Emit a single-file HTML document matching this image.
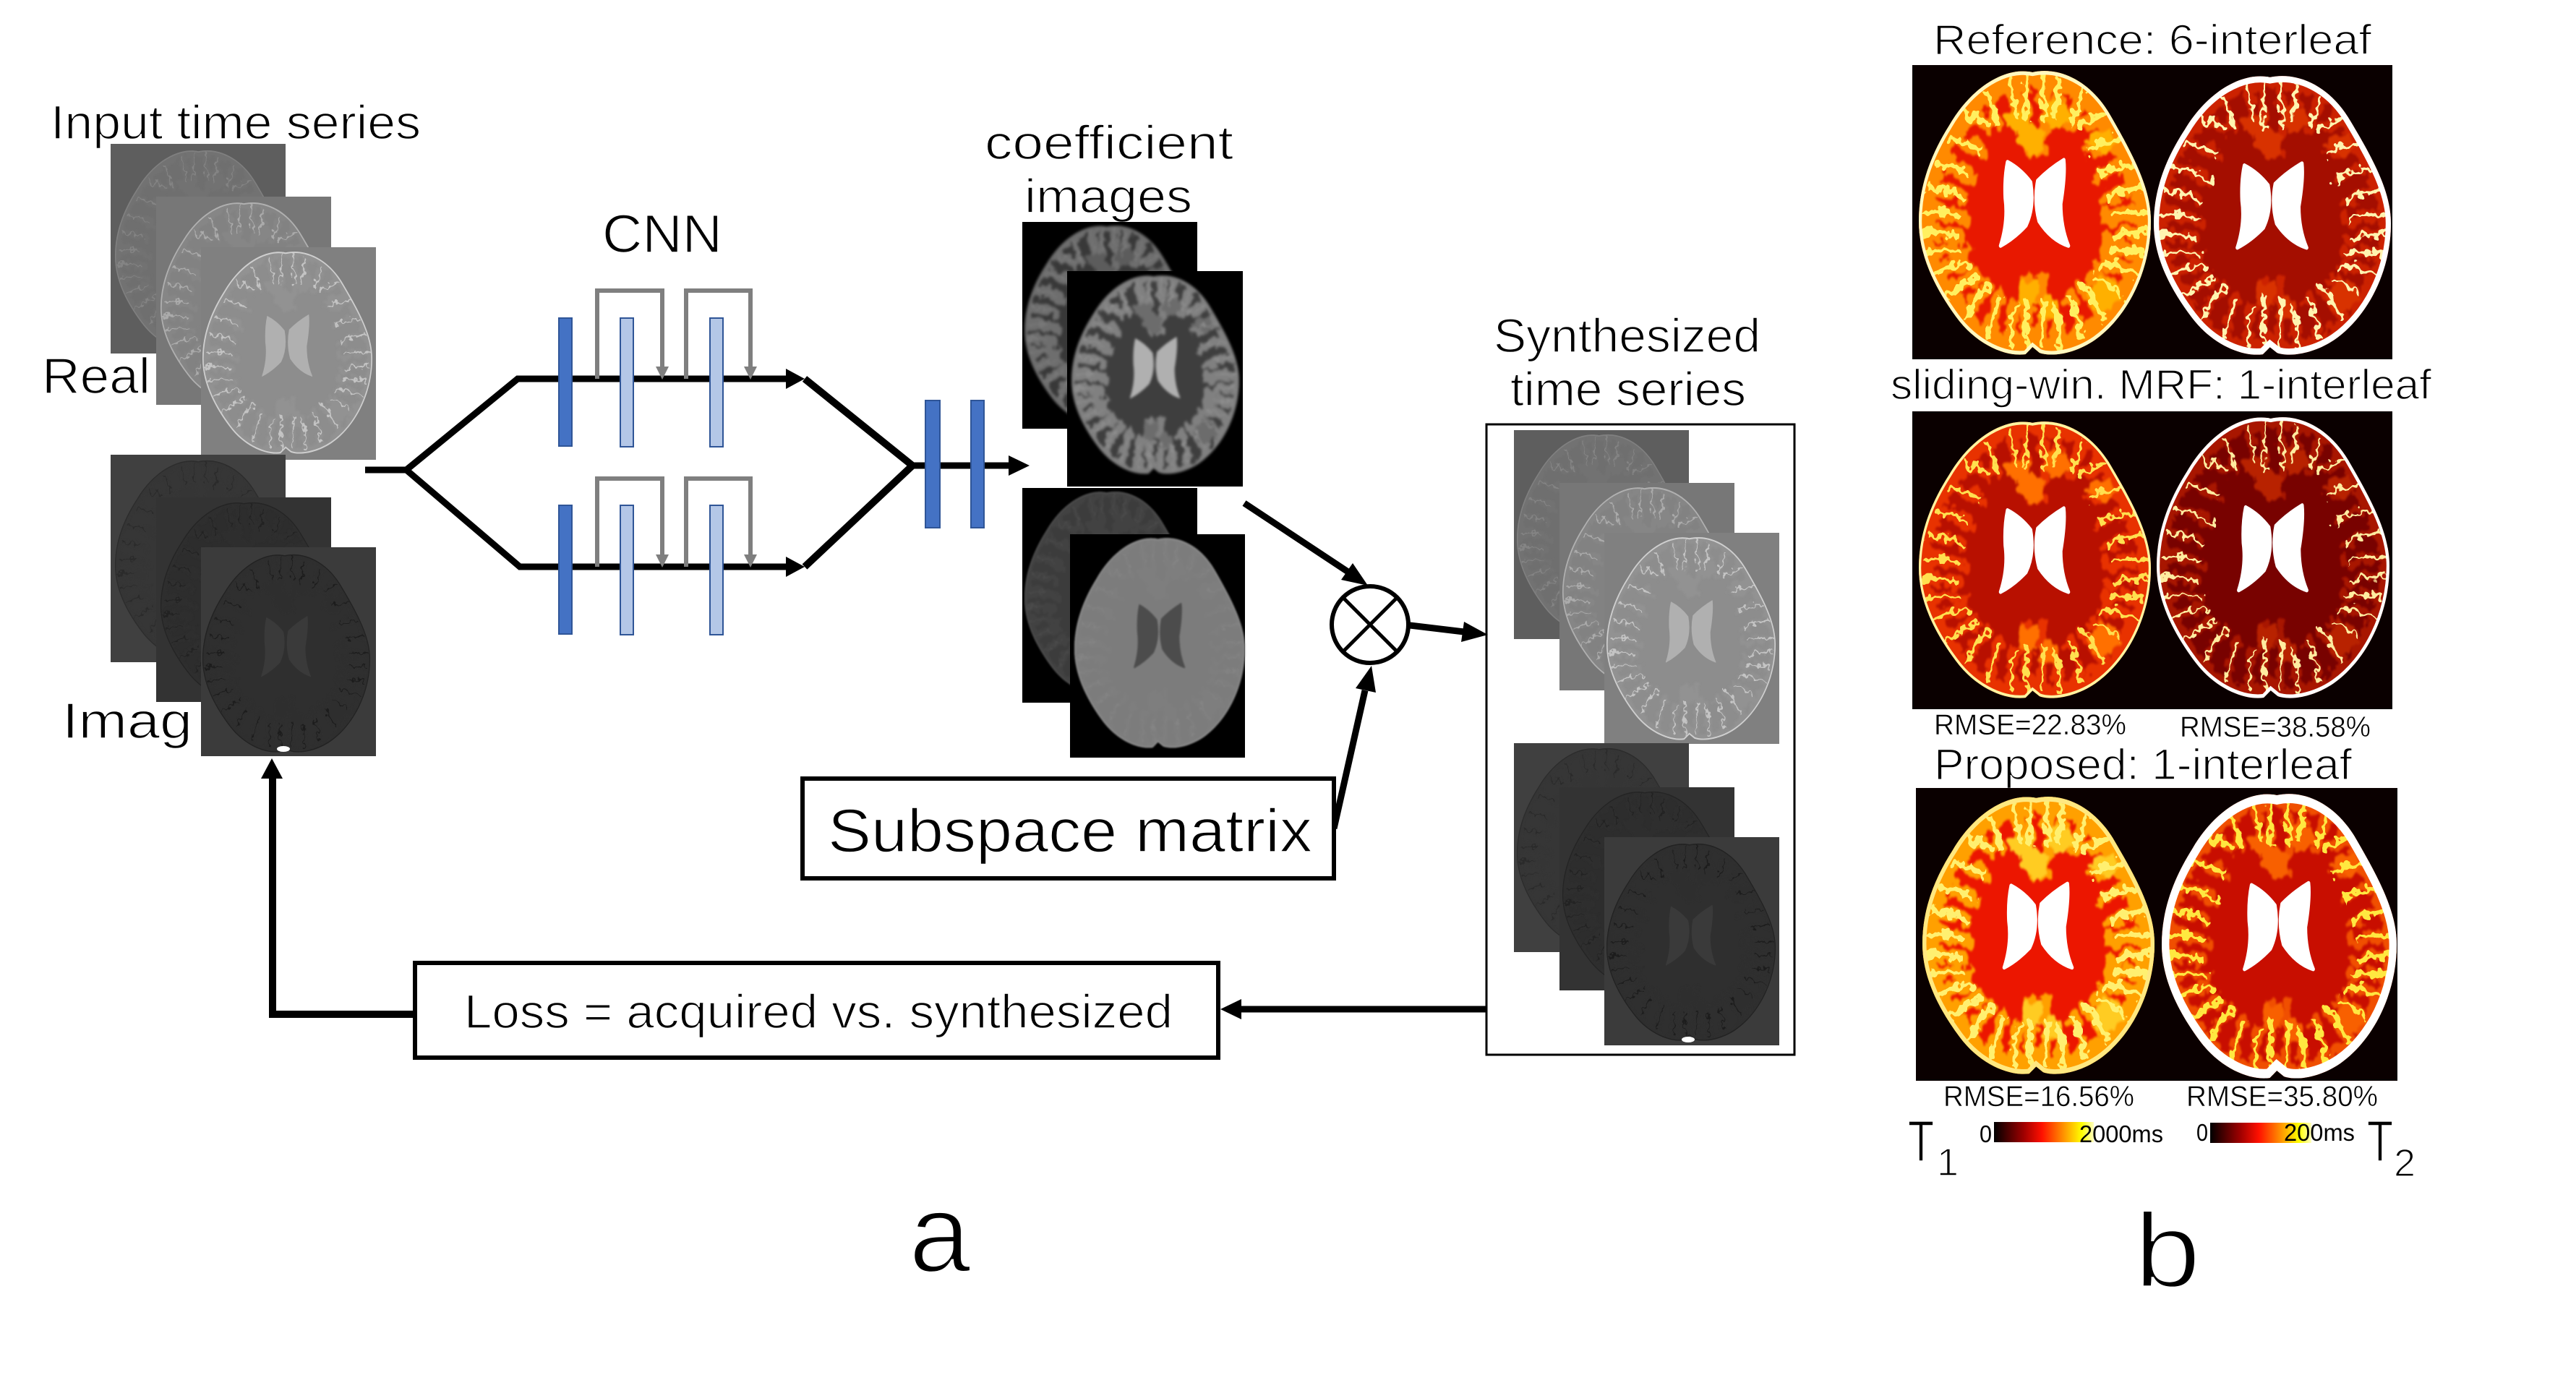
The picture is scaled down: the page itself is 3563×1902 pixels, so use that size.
<!DOCTYPE html>
<html><head><meta charset="utf-8"><style>
html,body{margin:0;padding:0;background:#fff}
svg{display:block}
text{font-family:"Liberation Sans",sans-serif;fill:#000;stroke:#fff;stroke-width:1.5px}
text.s{stroke-width:.6px}
text.xl{stroke-width:3.5px}
.wm{fill:var(--wm)}
.gm{stroke:var(--g);stroke-width:var(--gw);fill:none;stroke-linecap:round}
.bd{stroke:var(--g);stroke-width:var(--bw);fill:none}
.bl{fill:var(--bc)}
.ln{stroke:var(--ln);stroke-width:var(--lw);fill:none;stroke-linecap:round;stroke-dasharray:var(--da) 3000}
.ed{stroke:var(--e);stroke-width:var(--ew);fill:none}
.v{fill:var(--v);stroke:var(--v);stroke-width:var(--vs);stroke-linejoin:round}
.r1{--wm:#6f6f6f;--g:#727272;--gw:30;--bw:60;--bc:#727272;--ln:#848484;--lw:7;--da:130;--e:#808080;--ew:12;--v:#747474;--vs:4}
.r2{--wm:#828282;--g:#868686;--gw:30;--bw:60;--bc:#868686;--ln:#ababab;--lw:8;--da:140;--e:#b0b0b0;--ew:14;--v:#8f8f8f;--vs:4}
.r3{--wm:#8d8d8d;--g:#929292;--gw:30;--bw:60;--bc:#929292;--ln:#c4c4c4;--lw:8;--da:150;--e:#cfcfcf;--ew:14;--v:#b0b0b0;--vs:4}
.i1{--wm:#363636;--g:#363636;--gw:30;--bw:40;--bc:#363636;--ln:#2b2b2b;--lw:6;--da:100;--e:#2c2c2c;--ew:10;--v:#383838;--vs:4}
.i2{--wm:#2d2d2d;--g:#2d2d2d;--gw:30;--bw:40;--bc:#2d2d2d;--ln:#222;--lw:6;--da:100;--e:#242424;--ew:10;--v:#303030;--vs:4}
.i3{--wm:#2f2f2f;--g:#2f2f2f;--gw:30;--bw:40;--bc:#2f2f2f;--ln:#1f1f1f;--lw:6;--da:110;--e:#222;--ew:10;--v:#3a3a3a;--vs:4}
.c1{--wm:#383838;--g:#6e6e6e;--gw:50;--bw:50;--bc:#5c5c5c;--ln:#7a7a7a;--lw:8;--da:120;--e:#555;--ew:14;--v:#777;--vs:6;filter:blur(1.5px)}
.c2{--wm:#3e3e3e;--g:#808080;--gw:52;--bw:50;--bc:#6c6c6c;--ln:#8e8e8e;--lw:8;--da:120;--e:#6c6c6c;--ew:14;--v:#b0b0b0;--vs:6;filter:blur(1.5px)}
.c3{--wm:#3c3c3c;--g:#424242;--gw:40;--bw:50;--bc:#424242;--ln:#4c4c4c;--lw:6;--da:100;--e:#4e4e4e;--ew:14;--v:#333;--vs:6;filter:blur(1px)}
.c4{--wm:#7c7c7c;--g:#7e7e7e;--gw:30;--bw:40;--bc:#7e7e7e;--ln:#858585;--lw:5;--da:100;--e:#8c8c8c;--ew:14;--v:#4c4c4c;--vs:8;filter:blur(1px)}
.a1{--wm:#e81800;--g:#ff8a00;--gw:52;--bw:130;--bc:#ffb000;--ln:#fff060;--lw:20;--da:150;--e:#fff8c0;--ew:26;--v:#fff;--vs:14}
.a2{--wm:#a40e00;--g:#cc2400;--gw:36;--bw:90;--bc:#d83000;--ln:#fff4b0;--lw:13;--da:170;--e:#fff;--ew:44;--v:#fff;--vs:14}
.b1{--wm:#b81000;--g:#e83000;--gw:42;--bw:100;--bc:#ff7000;--ln:#ffe050;--lw:14;--da:150;--e:#fff4a0;--ew:20;--v:#fff;--vs:14}
.b2{--wm:#780200;--g:#a81200;--gw:32;--bw:80;--bc:#b82000;--ln:#ffeca0;--lw:10;--da:170;--e:#fff;--ew:26;--v:#fff;--vs:14}
.p1{--wm:#ec1600;--g:#ffa000;--gw:50;--bw:130;--bc:#ffcc20;--ln:#fff070;--lw:22;--da:150;--e:#ffe880;--ew:34;--v:#fff;--vs:14}
.p2{--wm:#c80e00;--g:#f05000;--gw:36;--bw:100;--bc:#f86000;--ln:#ffe840;--lw:18;--da:160;--e:#fff;--ew:64;--v:#fff;--vs:14}
</style></head><body>
<svg xmlns="http://www.w3.org/2000/svg" width="3563" height="1902" viewBox="0 0 3563 1902">
<defs>
<linearGradient id="cb"><stop offset="0" stop-color="#000"/><stop offset=".3" stop-color="#a00000"/><stop offset=".48" stop-color="#ff1000"/><stop offset=".72" stop-color="#ffa000"/><stop offset=".88" stop-color="#ffff00"/><stop offset="1" stop-color="#ffffc0"/></linearGradient>
<filter id="wob" x="-10%" y="-10%" width="120%" height="120%"><feTurbulence type="fractalNoise" baseFrequency="0.022" numOctaves="3" seed="7" result="n"/><feDisplacementMap in="SourceGraphic" in2="n" scale="70" xChannelSelector="R" yChannelSelector="G"/><feGaussianBlur stdDeviation="4"/></filter>
<filter id="wob2" x="-10%" y="-10%" width="120%" height="120%"><feTurbulence type="fractalNoise" baseFrequency="0.03" numOctaves="2" seed="3" result="n"/><feDisplacementMap in="SourceGraphic" in2="n" scale="60" xChannelSelector="R" yChannelSelector="G"/></filter>
<clipPath id="bc"><path d="M490 15C600-5 740 40 830 170C930 310 1000 420 1000 530C1000 700 900 860 760 940C670 990 570 1000 520 985L490 965L460 990C380 1000 250 960 160 860C60 750 0 640 0 530C0 400 60 290 130 200C230 60 380-5 490 15Z"/></clipPath>
<path id="ol" d="M490 15C600-5 740 40 830 170C930 310 1000 420 1000 530C1000 700 900 860 760 940C670 990 570 1000 520 985L490 965L460 990C380 1000 250 960 160 860C60 750 0 640 0 530C0 400 60 290 130 200C230 60 380-5 490 15Z"/>
<g id="half">
<path d="M120 245Q190 245 265 290"/><path d="M190 150Q240 180 300 195"/><path d="M290 75Q320 120 335 190"/><path d="M395 40Q400 100 420 170"/><path d="M470 25Q450 130 470 280"/>
<path d="M75 340Q160 330 240 385"/><path d="M40 420Q120 410 190 455"/><path d="M15 500Q110 490 200 525"/><path d="M10 570Q100 560 175 590"/><path d="M30 640Q110 620 195 640"/><path d="M70 715Q150 670 215 680"/>
<path d="M130 790Q190 730 255 725"/><path d="M205 865Q250 790 300 755"/><path d="M300 930Q315 850 350 795"/><path d="M395 965Q390 880 420 820"/><path d="M470 960Q460 830 470 720"/>
</g>
<g id="fl"><use href="#half"/><use href="#half" transform="matrix(-1 0 0 1 1000 0)"/></g>
<symbol id="brain" viewBox="0 0 1000 1000" preserveAspectRatio="none">
<g clip-path="url(#bc)">
<path class="wm" d="M0 0H1000V1000H0Z"/>
<g filter="url(#wob)">
<use href="#ol" class="bd"/>
<use href="#fl" class="gm"/>
<g class="bl"><ellipse cx="430" cy="180" rx="55" ry="40"/><ellipse cx="590" cy="160" rx="60" ry="45"/><ellipse cx="490" cy="245" rx="60" ry="50"/><ellipse cx="790" cy="250" rx="55" ry="40"/><ellipse cx="470" cy="780" rx="50" ry="45"/><ellipse cx="560" cy="830" rx="50" ry="40"/><ellipse cx="800" cy="780" rx="65" ry="55"/></g>
</g>
<g filter="url(#wob2)"><use href="#fl" class="ln"/></g>
<use href="#ol" class="ed"/>
</g>
<path class="v" d="M382 325Q440 350 482 395Q500 480 462 545Q410 590 352 615Q385 530 372 450Q368 380 382 325Z"/>
<path class="v" d="M625 318Q632 370 612 470Q612 550 645 615Q570 595 518 530Q495 460 512 390Q560 350 625 318Z"/>
</symbol>
</defs>

<!-- Input stacks -->
<rect x="153" y="199" width="242" height="290" fill="#5e5e5e"/><use href="#brain" class="r1" x="159" y="205" width="235" height="282"/>
<rect x="216" y="272" width="242" height="288" fill="#777"/><use href="#brain" class="r2" x="222" y="277" width="235" height="281"/>
<rect x="278" y="342" width="242" height="294" fill="#808080"/><use href="#brain" class="r3" x="280" y="345" width="235" height="285"/>
<rect x="153" y="629" width="242" height="287" fill="#404040"/><use href="#brain" class="i1" x="159" y="634" width="235" height="280"/>
<rect x="216" y="688" width="242" height="283" fill="#333"/><use href="#brain" class="i2" x="222" y="692" width="235" height="277"/>
<rect x="278" y="757" width="242" height="289" fill="#3b3b3b"/><use href="#brain" class="i3" x="280" y="764" width="232" height="279"/>
<ellipse cx="392" cy="1036" rx="9" ry="4" fill="#fff"/>

<!-- Labels left -->
<text x="70" y="192" font-size="66" textLength="512" lengthAdjust="spacingAndGlyphs">Input time series</text>
<text x="58" y="544" font-size="70" textLength="150" lengthAdjust="spacingAndGlyphs">Real</text>
<text x="86" y="1021" font-size="70" textLength="180" lengthAdjust="spacingAndGlyphs">Imag</text>
<text x="833" y="349" font-size="74" textLength="166" lengthAdjust="spacingAndGlyphs">CNN</text>

<!-- CNN lines -->
<g stroke="#000" fill="none" stroke-width="9">
<path d="M505 650H562"/>
<path d="M562 650L716 524H1090"/>
<path d="M562 650L719 784H1090"/>
<path d="M1113 524L1262 644L1113 784" stroke-width="10"/>
<path d="M1262 644H1398"/>
<path d="M1721 696L1866 792"/>
<path d="M1950 865L2025 874"/>
<path d="M1845 1146L1888 955"/>
<path d="M2056 1396H1715"/>
<path d="M571 1403H377V1075" stroke-width="10"/>
</g>
<g fill="#000">
<path d="M1087 510L1113 524L1087 538Z"/>
<path d="M1087 770L1113 784L1087 798Z"/>
<path d="M1395 630L1424 644L1395 658Z"/>
<path d="M1892 810L1855 802L1871 779Z"/>
<path d="M2058 878L2021 888L2025 860Z"/>
<path d="M1897 921L1903 958L1875 952Z"/>
<path d="M1688 1396L1717 1382L1717 1410Z"/>
<path d="M376 1049L361 1077L391 1077Z"/>
</g>
<!-- gray skip connectors -->
<g fill="none" stroke="#7f7f7f" stroke-width="6">
<path d="M826 524V402H916V510"/><path d="M949 524V402H1038V510"/>
<path d="M826 784V662H916V770"/><path d="M949 784V662H1038V770"/>
</g>
<g fill="#7f7f7f">
<path d="M907 507H925L916 525Z"/><path d="M1029 507H1047L1038 525Z"/>
<path d="M907 767H925L916 785Z"/><path d="M1029 767H1047L1038 785Z"/>
</g>
<!-- bars -->
<g stroke="#2f5597" stroke-width="2">
<g fill="#4472c4">
<rect x="773" y="440" width="18" height="177"/><rect x="773" y="699" width="18" height="178"/>
<rect x="1280" y="554" width="20" height="176"/><rect x="1343" y="554" width="18" height="176"/>
</g>
<g fill="#b4c7e7">
<rect x="858" y="440" width="18" height="178"/><rect x="982" y="440" width="18" height="178"/>
<rect x="858" y="699" width="18" height="179"/><rect x="982" y="699" width="18" height="179"/>
</g>
</g>

<!-- Coefficient images -->
<text x="1362" y="220" font-size="66" textLength="344" lengthAdjust="spacingAndGlyphs">coefficient</text>
<text x="1417" y="294" font-size="66" textLength="232" lengthAdjust="spacingAndGlyphs">images</text>
<rect x="1414" y="307" width="242" height="286" fill="#000"/><use href="#brain" class="c1" x="1417" y="309" width="232" height="280"/>
<rect x="1476" y="375" width="243" height="298" fill="#000"/><use href="#brain" class="c2" x="1482" y="378" width="232" height="280"/>
<rect x="1414" y="675" width="242" height="297" fill="#000"/><use href="#brain" class="c3" x="1417" y="677" width="232" height="285"/>
<rect x="1480" y="739" width="242" height="309" fill="#000"/><use href="#brain" class="c4" x="1486" y="741" width="236" height="296"/>

<!-- Multiply -->
<circle cx="1895" cy="864" r="53" fill="#fff" stroke="#000" stroke-width="6"/>
<path d="M1858 827L1932 901M1932 827L1858 901" stroke="#000" stroke-width="5"/>

<!-- Boxes -->
<rect x="1110" y="1077" width="735" height="138" fill="#fff" stroke="#000" stroke-width="6"/>
<text x="1145" y="1178" font-size="84" textLength="670" lengthAdjust="spacingAndGlyphs">Subspace matrix</text>
<rect x="574" y="1332" width="1111" height="131" fill="#fff" stroke="#000" stroke-width="6"/>
<text x="642" y="1422" font-size="66" textLength="980" lengthAdjust="spacingAndGlyphs">Loss = acquired vs. synthesized</text>

<!-- Synthesized -->
<text x="2066" y="487" font-size="66" textLength="369" lengthAdjust="spacingAndGlyphs">Synthesized</text>
<text x="2089" y="561" font-size="66" textLength="326" lengthAdjust="spacingAndGlyphs">time series</text>
<rect x="2056" y="587" width="426" height="872" fill="none" stroke="#000" stroke-width="3"/>
<rect x="2094" y="595" width="242" height="289" fill="#5e5e5e"/><use href="#brain" class="r1" x="2098" y="598" width="232" height="280"/>
<rect x="2157" y="668" width="242" height="287" fill="#777"/><use href="#brain" class="r2" x="2161" y="671" width="232" height="280"/>
<rect x="2219" y="737" width="242" height="292" fill="#808080"/><use href="#brain" class="r3" x="2222" y="740" width="234" height="286"/>
<rect x="2094" y="1028" width="242" height="289" fill="#404040"/><use href="#brain" class="i1" x="2098" y="1032" width="232" height="280"/>
<rect x="2157" y="1089" width="242" height="281" fill="#333"/><use href="#brain" class="i2" x="2161" y="1092" width="232" height="275"/>
<rect x="2219" y="1158" width="242" height="288" fill="#3b3b3b"/><use href="#brain" class="i3" x="2222" y="1164" width="234" height="278"/>
<ellipse cx="2335" cy="1438" rx="9" ry="4" fill="#fff"/>

<text class="xl" x="1257" y="1759" font-size="154">a</text>
<text class="xl" x="2952" y="1780" font-size="146" textLength="92" lengthAdjust="spacingAndGlyphs">b</text>

<!-- Maps -->
<text x="2674" y="75" font-size="58" textLength="606" lengthAdjust="spacingAndGlyphs">Reference: 6-interleaf</text>
<rect x="2645" y="90" width="664" height="407" fill="#0a0000"/>
<use href="#brain" class="a1" x="2654" y="94" width="321" height="400"/>
<use href="#brain" class="a2" x="2979" y="101" width="328" height="393"/>
<text x="2615" y="552" font-size="58" textLength="748" lengthAdjust="spacingAndGlyphs">sliding-win. MRF: 1-interleaf</text>
<rect x="2645" y="569" width="664" height="412" fill="#0a0000"/>
<use href="#brain" class="b1" x="2654" y="579" width="321" height="390"/>
<use href="#brain" class="b2" x="2983" y="573" width="322" height="396"/>
<text class="s" x="2675" y="1016" font-size="40" textLength="266" lengthAdjust="spacingAndGlyphs">RMSE=22.83%</text>
<text class="s" x="3015" y="1019" font-size="40" textLength="264" lengthAdjust="spacingAndGlyphs">RMSE=38.58%</text>
<text x="2675" y="1078" font-size="60" textLength="578" lengthAdjust="spacingAndGlyphs">Proposed: 1-interleaf</text>
<rect x="2650" y="1090" width="666" height="405" fill="#0a0000"/>
<use href="#brain" class="p1" x="2659" y="1098" width="321" height="391"/>
<use href="#brain" class="p2" x="2990" y="1094" width="325" height="401"/>
<text class="s" x="2688" y="1530" font-size="40" textLength="264" lengthAdjust="spacingAndGlyphs">RMSE=16.56%</text>
<text class="s" x="3024" y="1530" font-size="40" textLength="265" lengthAdjust="spacingAndGlyphs">RMSE=35.80%</text>

<!-- Legend -->
<rect x="2758" y="1552" width="138" height="28" fill="url(#cb)"/>
<rect x="3057" y="1553" width="140" height="28" fill="url(#cb)"/>
<text class="s" style="stroke:none" x="2738" y="1580" font-size="33" textLength="17" lengthAdjust="spacingAndGlyphs">0</text>
<text class="s" style="stroke:none" x="2876" y="1580" font-size="33" textLength="116" lengthAdjust="spacingAndGlyphs">2000ms</text>
<text class="s" style="stroke:none" x="3038" y="1578" font-size="33" textLength="16" lengthAdjust="spacingAndGlyphs">0</text>
<text class="s" style="stroke:none" x="3159" y="1578" font-size="33" textLength="98" lengthAdjust="spacingAndGlyphs">200ms</text>
<text x="2639" y="1606" font-size="80" textLength="36" lengthAdjust="spacingAndGlyphs">T</text>
<text x="2679" y="1626" font-size="54">1</text>
<text x="3274" y="1606" font-size="80" textLength="36" lengthAdjust="spacingAndGlyphs">T</text>
<text x="3311" y="1627" font-size="54">2</text>
</svg>
</body></html>
